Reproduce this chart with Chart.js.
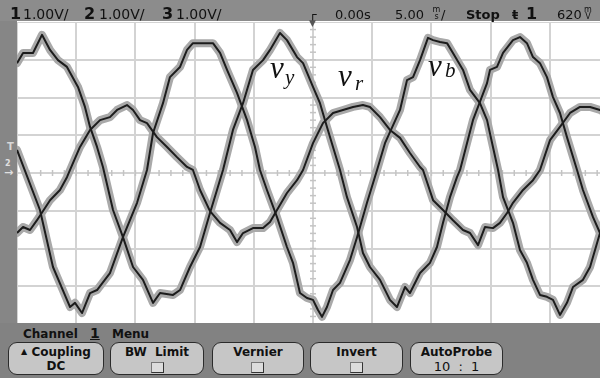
<!DOCTYPE html>
<html><head><meta charset="utf-8">
<script src="https://cdn.jsdelivr.net/npm/chart.js@4.4.1/dist/chart.umd.min.js"></script>
<style>
html,body{margin:0;padding:0;width:600px;height:378px;overflow:hidden;background:#fff;font-family:"DejaVu Sans",sans-serif;}
#hdr{position:absolute;left:0;top:0;width:600px;height:21px;background:#8c8c8c;}
#lstrip{position:absolute;left:0;top:21px;width:17px;height:303px;background:#868686;}
#ftr{position:absolute;left:0;top:323px;width:600px;height:55px;background:#828282;}
#wrap{position:absolute;left:17px;top:22px;width:592px;height:302px;}
.t{position:absolute;white-space:nowrap;color:#111;}
.big{font-weight:bold;font-size:16px;line-height:16px;}
.hv{font-size:14px;line-height:14px;}
.h13{font-size:13px;line-height:13px;}
.stk{position:absolute;font-size:8px;line-height:7px;text-align:center;color:#111;}
.btn{position:absolute;top:342px;height:31px;background:#c6c6c6;border:1.5px solid #2b2b2b;border-radius:9px;box-sizing:content-box;}
.bl{position:absolute;left:0;width:100%;text-align:center;font-weight:bold;font-size:12px;line-height:12px;color:#111;white-space:nowrap;}
.chk{position:absolute;width:11px;height:9px;background:#dcdcdc;border:1px solid #333;border-top-color:#777;border-left-color:#777;}
.lbl{position:absolute;font-family:"Liberation Serif",serif;font-style:italic;color:#111;white-space:nowrap;}
</style></head>
<body>
<div id="wrap"><canvas id="c" width="592" height="302"></canvas></div>
<div id="hdr"></div>
<div id="lstrip"></div>
<div id="ftr"></div>

<!-- header -->
<span class="t big" style="left:10px;top:6px">1</span>
<span class="t hv" style="left:23px;top:7px">1.00V/</span>
<span class="t big" style="left:84px;top:6px">2</span>
<span class="t hv" style="left:99px;top:7px">1.00V/</span>
<span class="t big" style="left:162px;top:6px">3</span>
<span class="t hv" style="left:176px;top:7px">1.00V/</span>
<span class="t h13" style="left:309px;top:8px;font-weight:bold">┌</span>
<span class="t" style="left:309px;top:19px;font-size:9px;line-height:9px;color:#555">▼</span>
<span class="t h13" style="left:335px;top:8px">0.00s</span>
<span class="t h13" style="left:395px;top:8px">5.00</span>
<span class="stk" style="left:432px;top:6px;width:9px">m<br>s</span>
<span class="t h13" style="left:441px;top:8px">/</span>
<span class="t h13" style="left:466px;top:8px;font-weight:bold">Stop</span>
<span class="t h13" style="left:512px;top:8px;font-weight:bold">ŧ</span>
<span class="t big" style="left:526px;top:6px">1</span>
<span class="t h13" style="left:557px;top:8px">620</span>
<span class="stk" style="left:582px;top:6px;width:12px">m<br>V</span>

<!-- left markers -->
<span class="t" style="left:7px;top:142px;font-size:10px;line-height:10px;color:#d8d8d8;font-weight:bold">T</span>
<span class="t" style="left:5px;top:160px;font-size:8px;line-height:8px;color:#e0e0e0;font-weight:bold">2</span>
<span class="t" style="left:4px;top:167px;font-size:11px;line-height:11px;color:#e0e0e0;font-weight:bold">→</span>

<!-- waveform labels -->
<span class="lbl" style="left:270px;top:52px;font-size:31px;line-height:31px">v</span>
<span class="lbl" style="left:285px;top:67px;font-size:21px;line-height:21px">y</span>
<span class="lbl" style="left:338px;top:60px;font-size:31px;line-height:31px">v</span>
<span class="lbl" style="left:355px;top:73px;font-size:21px;line-height:21px">r</span>
<span class="lbl" style="left:428px;top:50px;font-size:31px;line-height:31px">v</span>
<span class="lbl" style="left:445px;top:60px;font-size:21px;line-height:21px">b</span>

<!-- footer -->
<span class="t" style="left:23px;top:328px;font-size:12px;line-height:12px;font-weight:bold">Channel</span>
<span class="t" style="left:90px;top:326px;font-size:14px;line-height:14px;font-weight:bold;text-decoration:underline">1</span>
<span class="t" style="left:112px;top:328px;font-size:12px;line-height:12px;font-weight:bold">Menu</span>

<div class="btn" style="left:8px;width:94px">
  <div class="bl" style="top:3px"><span style="font-size:8px;vertical-align:2px">▲</span> Coupling</div>
  <div class="bl" style="top:17px">DC</div>
</div>
<div class="btn" style="left:110px;width:92px">
  <div class="bl" style="top:3px">BW&nbsp;&nbsp;Limit</div>
  <div class="chk" style="left:40px;top:19px"></div>
</div>
<div class="btn" style="left:212px;width:90px">
  <div class="bl" style="top:3px">Vernier</div>
  <div class="chk" style="left:38px;top:19px"></div>
</div>
<div class="btn" style="left:310px;width:91px">
  <div class="bl" style="top:3px">Invert</div>
  <div class="chk" style="left:39px;top:19px"></div>
</div>
<div class="btn" style="left:410px;width:91px">
  <div class="bl" style="top:3px">AutoProbe</div>
  <div class="bl" style="top:17px;font-weight:normal;font-size:13px;line-height:13px">10&nbsp;&nbsp;:&nbsp;&nbsp;1</div>
</div>

<script>
// time axis in ms (5 ms/div, 10 divisions), voltage in V (1 V/div, 8 divisions)
const xTicks = [0,5,10,15,20,25,30,35,40,45,50];
const yTicks = [-4,-3,-2,-1,0,1,2,3,4];

// v_y trace
const tY = [0,0.51,1.35,2.11,2.79,3.46,4.22,5.15,5.74,6.17,6.76,7.26,8.11,8.95,9.80,10.64,11.49,12.08,13.18,13.77,14.61,15.46,16.30,16.89,17.40,18.24,19.09,19.93,20.78,21.37,22.21,22.80,23.65,24.16,25.00,25.59,26.18,26.69,27.28,27.87,28.72,29.22,29.81,30.66,31.50,32.09,32.77,33.19,34.04,34.88,35.47,35.98,36.57,37.16,37.42,38.51,39.70,39.95,40.54,41.05,41.89,42.48,43.07,43.58,44.17,44.76,45.27,45.86,46.45,47.30,47.80,48.65,49.24,50.00];
const vY = [2.91,3.18,3.18,3.66,3.26,2.99,2.81,2.28,1.75,1.22,0.69,0.16,-0.98,-1.70,-2.49,-2.83,-3.44,-3.18,-3.23,-3.10,-2.49,-1.96,-1.06,-0.45,0.08,1.14,1.85,2.73,2.99,3.26,3.71,3.52,3.07,2.91,2.28,1.85,1.22,0.69,0.08,-0.64,-1.43,-2.12,-2.49,-2.83,-3.36,-3.55,-3.02,-3.18,-2.65,-2.38,-1.96,-1.32,-0.64,-0.11,0.08,1.40,2.38,2.73,2.81,3.18,3.52,3.60,3.44,3.07,2.91,2.54,2.01,1.59,0.95,0.08,-0.45,-1.17,-1.59,-2.17];

// v_r trace (smaller amplitude)
const tR = [0,0.51,1.10,1.69,2.79,3.63,4.22,4.48,5.32,6.17,7.01,7.85,8.45,9.29,9.80,10.39,10.98,11.82,12.67,13.51,14.36,14.86,15.46,16.30,17.15,17.99,18.58,19.09,19.93,20.78,21.37,21.96,22.80,23.65,24.16,25.00,25.84,26.69,27.53,28.38,29.22,29.81,30.66,31.50,32.35,33.19,34.04,34.29,35.14,35.98,36.82,37.67,38.26,38.94,39.53,40.20,40.79,41.39,41.89,42.74,43.58,44.17,45.02,45.86,46.71,47.55,48.40,49.24,50.00];
const vR = [-1.59,-1.43,-1.51,-1.25,-0.72,-0.45,-0.11,0.08,0.69,1.14,1.40,1.48,1.67,1.80,1.67,1.40,1.32,0.95,0.69,0.42,0.16,0.08,-0.45,-1.01,-1.32,-1.51,-1.83,-1.59,-1.46,-1.46,-1.30,-0.98,-0.53,-0.19,0.08,0.79,1.32,1.59,1.67,1.75,1.80,1.75,1.48,1.14,0.93,0.53,0.16,0.08,-0.72,-0.98,-1.25,-1.51,-1.59,-1.91,-1.43,-1.46,-1.32,-1.06,-0.79,-0.45,-0.19,0.08,0.87,1.22,1.59,1.75,1.75,1.67,1.54];

// v_b trace
const tB = [0,1.94,3.04,4.22,4.48,4.90,5.49,6.17,6.76,7.85,8.95,10.14,10.98,11.49,12.33,12.92,13.77,14.36,14.86,15.46,16.55,17.15,17.74,18.58,19.43,20.10,20.52,21.11,21.96,22.80,23.31,23.90,24.49,25.00,25.42,25.76,26.18,26.69,27.28,28.13,28.72,29.56,30.41,31.08,32.35,32.94,33.45,34.04,34.71,35.14,35.73,36.32,36.82,37.67,38.26,39.10,39.70,40.20,40.63,41.05,41.89,42.48,43.07,43.58,44.17,44.76,45.27,45.86,46.45,46.96,47.80,48.40,49.24,50.00];
const vB = [0.61,-0.98,-2.49,-3.36,-3.55,-3.44,-3.71,-3.18,-3.10,-2.65,-1.70,-0.79,0.08,1.06,1.85,2.54,2.81,3.26,3.44,3.44,3.44,3.18,2.73,2.12,1.40,0.69,0.08,-0.45,-1.17,-1.96,-2.38,-3.18,-3.31,-3.36,-3.63,-3.81,-3.55,-3.10,-2.91,-2.30,-1.70,-0.79,0.08,0.79,1.67,2.46,2.54,2.99,3.58,3.52,3.47,3.44,3.18,2.73,2.20,1.85,1.40,0.69,0.08,-0.64,-1.32,-2.04,-2.38,-2.83,-3.23,-3.28,-3.36,-3.76,-3.44,-3.02,-2.83,-2.49,-1.59,-0.85];

const series = [[tY,vY],[tR,vR],[tB,vB]];
const pts = (t,v) => t.map((x,i)=>({x:x,y:v[i]}));

const datasets = [];
series.forEach(([t,v])=>{
  datasets.push({data:pts(t,v),borderColor:'#a9a9a9',borderWidth:8,order:2,tension:0,
    borderJoinStyle:'round',borderCapStyle:'round',pointRadius:0});
});
series.forEach(([t,v])=>{
  datasets.push({data:pts(t,v),borderColor:'#1c1c1c',borderWidth:2,order:1,tension:0,
    borderJoinStyle:'round',pointRadius:0});
});

const gridPlugin = {
  id:'scopeGrid',
  beforeDatasetsDraw(chart){
    const {ctx,chartArea:a,scales:{x,y}} = chart;
    ctx.save();
    ctx.strokeStyle = '#d3d3d3';
    ctx.lineWidth = 2;
    xTicks.forEach(v=>{const p=Math.round(x.getPixelForValue(v));ctx.beginPath();ctx.moveTo(p,a.top);ctx.lineTo(p,a.bottom);ctx.stroke();});
    yTicks.forEach(v=>{const p=Math.round(y.getPixelForValue(v));ctx.beginPath();ctx.moveTo(a.left,p);ctx.lineTo(a.right,p);ctx.stroke();});
    // minor ticks on centre axes
    ctx.strokeStyle = '#c4c4c4';
    ctx.lineWidth = 1.5;
    const cx = x.getPixelForValue(25), cy = y.getPixelForValue(0);
    for(let t=0;t<=50;t+=1){const p=x.getPixelForValue(t);ctx.beginPath();ctx.moveTo(p,cy-3);ctx.lineTo(p,cy+3);ctx.stroke();}
    for(let k=-20;k<=20;k++){const p=y.getPixelForValue(k*0.2);ctx.beginPath();ctx.moveTo(cx-3,p);ctx.lineTo(cx+3,p);ctx.stroke();}
    ctx.restore();
  }
};

new Chart(document.getElementById('c'),{
  type:'line',
  data:{datasets:datasets},
  options:{
    responsive:false,animation:false,events:[],
    layout:{padding:0},
    plugins:{legend:{display:false},tooltip:{enabled:false}},
    scales:{
      x:{type:'linear',min:0,max:50,display:false},
      y:{type:'linear',min:-4,max:4,display:false}
    }
  },
  plugins:[gridPlugin]
});
</script>
</body></html>
